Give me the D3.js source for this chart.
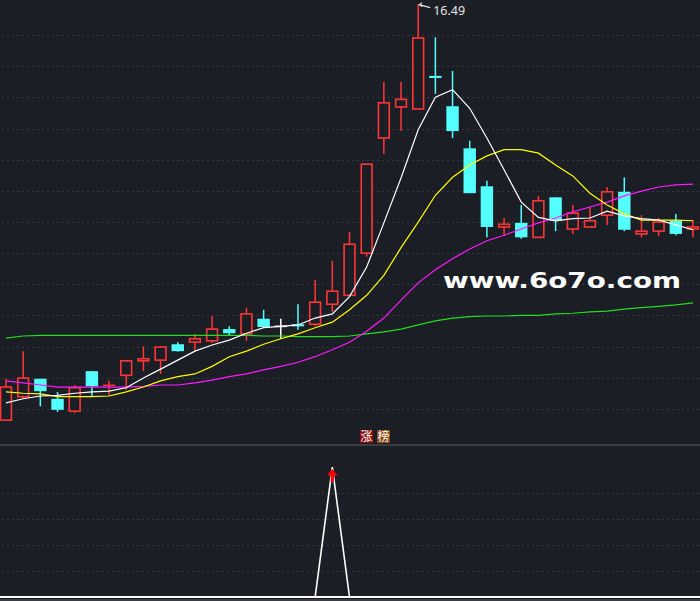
<!DOCTYPE html>
<html>
<head>
<meta charset="utf-8">
<script src="https://cdn.jsdelivr.net/npm/d3@7"></script>
<style>
  html, body { margin:0; padding:0; background:#1c1e26; overflow:hidden; }
  svg { display:block; }
</style>
</head>
<body>
<div class="kline-container"></div>
<script>
// K-line data (price)
const opens  = [10.46,10.80,11.06,10.77,10.59,11.17,10.96,11.11,11.32,11.33,11.56,11.59,11.61,11.78,11.71,11.93,11.82,11.85,11.85,12.14,
                12.27,12.88,14.55,15.00,14.97,15.45,15.01,14.40,13.85,13.26,13.32,13.11,13.69,13.23,13.26,13.43,13.77,13.16,13.20,13.35,13.23];
const highs  = [11.06,11.46,11.06,10.87,10.97,11.17,11.03,11.33,11.53,11.53,11.59,11.71,11.97,11.82,12.09,12.06,11.93,12.14,12.49,12.77,
                13.19,14.17,15.36,15.36,16.49,16.01,15.52,14.51,13.93,13.39,13.58,13.71,13.69,13.58,13.55,13.84,13.98,13.43,13.39,13.45,13.36];
const lows   = [10.45,10.78,10.66,10.58,10.56,10.80,10.82,10.90,11.17,11.13,11.45,11.46,11.58,11.68,11.61,11.81,11.64,11.77,11.82,12.03,
                12.27,12.83,14.32,14.65,14.97,15.19,14.55,13.75,13.11,13.13,13.09,13.11,13.20,13.16,13.26,13.29,13.20,13.11,13.13,13.14,13.11];
const closes = [10.94,11.07,10.88,10.61,10.93,10.95,10.97,11.32,11.35,11.52,11.46,11.64,11.78,11.72,12.00,11.81,11.82,11.82,12.17,12.33,
                13.01,14.17,15.06,15.11,16.00,15.42,14.65,13.75,13.26,13.30,13.11,13.64,13.35,13.46,13.35,13.77,13.22,13.20,13.33,13.16,13.26];

// moving averages
const ma5  = [10.71,10.77,10.81,10.82,10.85,10.87,10.88,10.93,11.07,11.20,11.33,11.46,11.55,11.62,11.72,11.80,11.82,11.84,11.94,12.00,
              12.25,12.68,13.32,13.97,14.67,15.14,15.25,14.98,14.55,14.09,13.62,13.40,13.35,13.38,13.39,13.49,13.42,13.38,13.36,13.29,13.22];
const ma10 = [10.87,10.85,10.84,10.80,10.80,10.80,10.81,10.87,10.94,11.03,11.09,11.13,11.24,11.38,11.46,11.56,11.64,11.71,11.80,11.88,
              12.06,12.27,12.56,12.96,13.33,13.72,13.98,14.16,14.29,14.38,14.38,14.33,14.16,14.00,13.75,13.58,13.45,13.36,13.36,13.36,13.35];
const ma20 = [11.03,11.00,10.97,10.94,10.94,10.94,10.94,10.94,10.95,10.97,10.97,11.00,11.04,11.09,11.13,11.19,11.24,11.30,11.38,11.48,
              11.59,11.75,11.94,12.20,12.45,12.64,12.80,12.94,13.06,13.14,13.23,13.32,13.39,13.48,13.55,13.62,13.71,13.78,13.84,13.87,13.88];
const ma60 = [11.65,11.68,11.69,11.69,11.69,11.69,11.69,11.69,11.69,11.69,11.69,11.69,11.69,11.69,11.69,11.68,11.68,11.67,11.67,11.67,
              11.68,11.71,11.74,11.78,11.84,11.90,11.94,11.96,11.97,11.97,11.98,11.98,12.00,12.01,12.03,12.04,12.07,12.09,12.11,12.13,12.16];

// sub chart signal (0 / 1)
const signal = [0,0,0,0,0,0,0,0,0,0,0,0,0,0,0,0,0,0,0,1,
                0,0,0,0,0,0,0,0,0,0,0,0,0,0,0,0,0,0,0,0,0];
const signalLabels = ['涨', '榜'];
const watermark = 'www.6o7o.com';

const bg = '#1c1e26';
const upColor = '#ff3636';
const downColor = '#54ffff';
const flatColor = '#ffffff';

const candles = opens.map((o, i) => ({i, open:o, high:highs[i], low:lows[i], close:closes[i]}));
const maSeries = [
    {name:'MA60', color:'#22dd22', values:ma60},
    {name:'MA20', color:'#ff1aff', values:ma20},
    {name:'MA10', color:'#ffff00', values:ma10},
    {name:'MA5',  color:'#ffffff', values:ma5}
];

function setupCanvas(){
    const svg_width = 700;
    const svg_height = 601;
    const mainBottom = 445;

    const svg = d3.select('.kline-container').append('svg')
        .attr('width', svg_width).attr('height', svg_height);
    svg.append('rect').attr('width', svg_width).attr('height', svg_height).attr('fill', bg);

    //scales
    const xScale = d3.scaleLinear().domain([0, candles.length - 1]).range([6, 693]);
    const yScale = d3.scaleLinear().domain([10.10, 16.55]).range([mainBottom, 0]);
    const subScale = d3.scaleLinear().domain([0, 1]).range([597, 467]);
    const gridScale = d3.scaleLinear().domain([0, 14]).range([4, 440]);

    //grid lines
    const grid = svg.append('g').attr('class', 'grid')
        .attr('stroke', '#363945').attr('stroke-width', 1).attr('stroke-dasharray', '2,3');
    grid.selectAll('.main-grid').data(d3.range(1, 14)).enter()
        .append('line').attr('class', 'main-grid')
        .attr('x1', 2).attr('x2', svg_width)
        .attr('y1', d => Math.round(gridScale(d)) + 0.5)
        .attr('y2', d => Math.round(gridScale(d)) + 0.5);
    grid.selectAll('.sub-grid').data([0.2, 0.4, 0.6, 0.8]).enter()
        .append('line').attr('class', 'sub-grid')
        .attr('x1', 2).attr('x2', svg_width)
        .attr('y1', d => Math.round(subScale(d)) + 0.5)
        .attr('y2', d => Math.round(subScale(d)) + 0.5);

    //panel separators
    svg.append('line').attr('x1', 0).attr('x2', svg_width)
        .attr('y1', mainBottom).attr('y2', mainBottom)
        .attr('stroke', '#454955').attr('stroke-width', 1.5);
    svg.append('line').attr('x1', 0).attr('x2', svg_width)
        .attr('y1', 600).attr('y2', 600)
        .attr('stroke', '#454955').attr('stroke-width', 1.5);

    //candles
    const colorOf = d => d.close > d.open ? upColor : (d.close < d.open ? downColor : flatColor);
    const bodyW = 12.4;
    const candleGroup = svg.append('g').attr('class', 'candles');
    const c = candleGroup.selectAll('.candle').data(candles).enter()
        .append('g').attr('class', 'candle');

    // wick
    c.each(function(d){
        const g = d3.select(this);
        const x = xScale(d.i);
        const top = yScale(Math.max(d.open, d.close));
        const bot = yScale(Math.min(d.open, d.close));
        const col = colorOf(d);
        if (d.close > d.open && bot - top > 2){
            // hollow up candle: wick stops at the body
            g.append('line').attr('x1', x).attr('x2', x)
                .attr('y1', yScale(d.high)).attr('y2', top)
                .attr('stroke', col).attr('stroke-width', 1.5);
            g.append('line').attr('x1', x).attr('x2', x)
                .attr('y1', bot).attr('y2', yScale(d.low))
                .attr('stroke', col).attr('stroke-width', 1.5);
            g.append('rect')
                .attr('x', x - bodyW/2 + 0.8).attr('y', top)
                .attr('width', bodyW - 1.6).attr('height', bot - top)
                .attr('fill', bg).attr('stroke', col).attr('stroke-width', 1.6);
        } else {
            g.append('line').attr('x1', x).attr('x2', x)
                .attr('y1', yScale(d.high)).attr('y2', yScale(d.low))
                .attr('stroke', col).attr('stroke-width', 1.5);
            g.append('rect')
                .attr('x', x - bodyW/2).attr('y', Math.min(top, (top + bot)/2 - 0.8))
                .attr('width', bodyW).attr('height', Math.max(bot - top, 1.6))
                .attr('fill', col);
        }
    });

    //moving average lines
    const lineGen = d3.line()
        .x((d, i) => xScale(i))
        .y(d => yScale(d));
    svg.append('g').attr('class', 'ma-lines')
        .selectAll('.ma').data(maSeries).enter()
        .append('path')
        .attr('class', d => `ma ${d.name.toLowerCase()}`)
        .attr('d', d => lineGen(d.values))
        .style('fill', 'none').style('stroke', d => d.color).style('stroke-width', 1.2);

    //highest price label
    const maxIdx = d3.maxIndex(highs);
    const hx = xScale(maxIdx);
    const hy = yScale(highs[maxIdx]);
    const hiLabel = svg.append('g').attr('class', 'high-label');
    hiLabel.append('path')
        .attr('d', `M${hx + 4},${hy - 1.5} L${hx + 1},${hy + 0.5} L${hx + 4},${hy + 2.5} M${hx + 1},${hy + 0.5} L${hx + 12},${hy + 3.5}`)
        .attr('fill', 'none').attr('stroke', '#e8e8e8').attr('stroke-width', 1.1);
    hiLabel.append('text')
        .attr('x', hx + 15).attr('y', hy + 11)
        .text(d3.format('.2f')(highs[maxIdx]))
        .style('font-family', "'Noto Sans', 'Liberation Sans', sans-serif")
        .style('font-size', '12.5px').style('fill', '#e4e4e4');

    //sub chart signal
    const subLine = d3.line()
        .x((d, i) => xScale(i))
        .y(d => subScale(d));
    svg.append('line').attr('x1', 0).attr('x2', svg_width)
        .attr('y1', subScale(0)).attr('y2', subScale(0))
        .attr('stroke', '#ffffff').attr('stroke-width', 2);
    svg.append('path').attr('class', 'signal-line')
        .attr('d', subLine(signal))
        .style('fill', 'none').style('stroke', '#ffffff').style('stroke-width', 1.6);

    // red arrow at signal peak
    const arrows = svg.append('g').attr('class', 'signal-arrows');
    signal.forEach((v, i) => {
        if (v > 0){
            const ax = xScale(i);
            const ay = subScale(v);
            arrows.append('path')
                .attr('d', `M${ax},${ay + 2} L${ax + 5.5},${ay + 8.5} L${ax + 1.6},${ay + 8.5} L${ax + 1.6},${ay + 15} L${ax - 1.6},${ay + 15} L${ax - 1.6},${ay + 8.5} L${ax - 5.5},${ay + 8.5} Z`)
                .attr('fill', '#ff0000');
        }
    });

    // sub chart title labels
    const labelColors = ['#8c0c0c', '#8a4a12'];
    const labels = svg.append('g').attr('class', 'sub-title')
        .selectAll('g').data(signalLabels).enter()
        .append('g').attr('transform', (d, i) => `translate(${360 + i * 17},430)`);
    labels.append('rect').attr('width', 13).attr('height', 13)
        .attr('fill', (d, i) => labelColors[i]);
    labels.append('text').attr('x', 6.5).attr('y', 11.2)
        .attr('text-anchor', 'middle')
        .text(d => d)
        .style('font-family', "'Noto Sans CJK SC', sans-serif")
        .style('font-size', '12px').style('fill', '#ffffff');

    //watermark
    svg.append('text')
        .attr('x', 443).attr('y', 288)
        .attr('textLength', 238).attr('lengthAdjust', 'spacingAndGlyphs')
        .text(watermark)
        .style('font-family', "'DejaVu Sans', sans-serif")
        .style('font-weight', 'bold')
        .style('font-size', '22px').style('fill', '#ffffff');
}

setupCanvas();
</script>
</body>
</html>
